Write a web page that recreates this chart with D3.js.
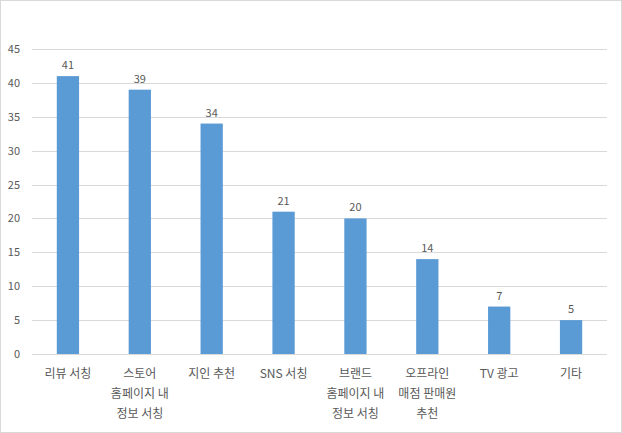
<!DOCTYPE html>
<html><head><meta charset="utf-8">
<script src="https://cdn.jsdelivr.net/npm/d3@7"></script>
<style>body{margin:0;background:#fff}svg{display:block}text{font-family:"Noto Sans CJK KR","Noto Sans",sans-serif;fill:#595959}</style>
</head><body><svg id="c" width="622" height="433"></svg>
<script>
const categories = [["리뷰 서칭"], ["스토어", "홈페이지 내", "정보 서칭"], ["지인 추천"], ["SNS 서칭"],
  ["브랜드", "홈페이지 내", "정보 서칭"], ["오프라인", "매점 판매원", "추천"], ["TV 광고"], ["기타"]];
const values = [41, 39, 34, 21, 20, 14, 7, 5];
const yTicks = [0, 5, 10, 15, 20, 25, 30, 35, 40, 45];

const svg = d3.select("#c");
svg.append("rect").attr("x", 0.5).attr("y", 0.5).attr("width", 621).attr("height", 432)
  .attr("fill", "#fff").attr("stroke", "#d9d9d9");

const x = d3.scaleBand().domain(d3.range(values.length)).range([32, 607]).paddingInner(0.69).paddingOuter(0.345);
const y = d3.scaleLinear().domain([0, 45]).range([354, 49]);

svg.append("g").selectAll("line").data(yTicks).join("line")
  .attr("x1", 32).attr("x2", 607).attr("y1", d => Math.round(y(d)) + 0.5).attr("y2", d => Math.round(y(d)) + 0.5)
  .attr("stroke", "#d9d9d9");

svg.append("g").selectAll("text").data(yTicks).join("text")
  .attr("x", 20).attr("y", d => y(d) + 4).attr("text-anchor", "end").attr("font-size", 11).text(d => d);

svg.append("g").selectAll("rect").data(values).join("rect")
  .attr("x", (d, i) => x(i)).attr("width", x.bandwidth())
  .attr("y", d => y(d)).attr("height", d => y(0) - y(d)).attr("fill", "#5b9bd5");

svg.append("g").selectAll("text").data(values).join("text")
  .attr("x", (d, i) => x(i) + x.bandwidth() / 2).attr("y", d => y(d) - 7)
  .attr("text-anchor", "middle").attr("font-size", 11).attr("fill", "#404040").text(d => d);

const lab = svg.append("g").selectAll("text").data(categories).join("text")
  .attr("x", (d, i) => x(i) + x.bandwidth() / 2).attr("y", 378)
  .attr("text-anchor", "middle").attr("font-size", 12);
lab.selectAll("tspan").data(d => d).join("tspan")
  .attr("x", function() { return this.parentNode.getAttribute("x"); })
  .attr("dy", (d, i) => i ? 20 : 0).text(d => d);
</script></body></html>
